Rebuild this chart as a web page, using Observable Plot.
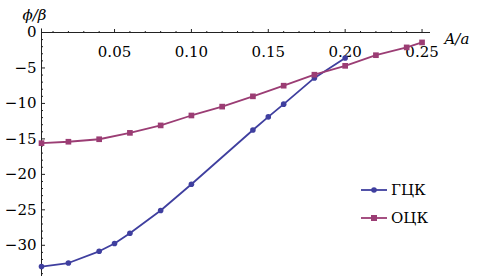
<!DOCTYPE html>
<html><head><meta charset="utf-8">
<script src="https://cdn.jsdelivr.net/npm/d3@7"></script>
<script src="https://cdn.jsdelivr.net/npm/@observablehq/plot@0.6"></script>
<style>
body{margin:0;background:#fff}
#wrap{position:relative;width:481px;height:276px}
#wrap svg text{font-family:"DejaVu Serif","Liberation Serif",serif}
#legend{position:absolute;left:360px;top:176px;font-family:"DejaVu Serif","Liberation Serif",serif;font-size:15px;color:#000}
.li{display:flex;align-items:center;height:28px}
.li svg{margin-right:3px}
</style>
</head><body><div id="wrap"></div>
<script>
// ГЦК series
const fccX = [0.0025, 0.02, 0.04, 0.05, 0.06, 0.08, 0.10, 0.14, 0.15, 0.16, 0.18, 0.20];
const fccY = [-33.0, -32.5, -30.85, -29.75, -28.3, -25.1, -21.4, -13.75, -11.9, -10.1, -6.4, -3.6];
// ОЦК series
const bccX = [0.0025, 0.02, 0.04, 0.06, 0.08, 0.10, 0.12, 0.14, 0.16, 0.18, 0.20, 0.22, 0.24, 0.25];
const bccY = [-15.6, -15.4, -15.05, -14.15, -13.1, -11.7, -10.45, -9.0, -7.5, -5.95, -4.7, -3.2, -2.1, -1.4];
const seriesNames = ["ГЦК", "ОЦК"];
const seriesColors = ["#3f3f9f", "#9b3d74"];
const xTickLabels = [0.05, 0.10, 0.15, 0.20, 0.25];
const xMinorTicks = [0.01,0.02,0.03,0.04,0.06,0.07,0.08,0.09,0.11,0.12,0.13,0.14,0.16,0.17,0.18,0.19,0.21,0.22,0.23,0.24];
const yTickLabels = [0, -5, -10, -15, -20, -25, -30];
const yMinorTicks = [-1,-2,-3,-4,-6,-7,-8,-9,-11,-12,-13,-14,-16,-17,-18,-19,-21,-22,-23,-24,-26,-27,-28,-29,-31,-32,-33,-34];
const xDomain = [0.0025, 0.2555];
const yDomain = [-34.4, 0];

const fcc = fccX.map((x, i) => ({x, y: fccY[i]}));
const bcc = bccX.map((x, i) => ({x, y: bccY[i]}));
const fmtY = d => d === 0 ? "0" : "\u2212" + Math.abs(d);

const chart = Plot.plot({
  width: 481, height: 276,
  marginLeft: 41, marginRight: 51, marginTop: 32, marginBottom: 0,
  style: {fontFamily: "'DejaVu Serif', serif", fontSize: "15px", background: "#fff", overflow: "visible"},
  x: {domain: xDomain, axis: null},
  y: {domain: yDomain, axis: null},
  marks: [
    Plot.ruleY([0], {stroke: "#222", strokeWidth: 1}),
    Plot.ruleX([xDomain[0]], {y1: yDomain[0], y2: 0.5, stroke: "#222", strokeWidth: 1}),
    Plot.axisX({anchor: "top", ticks: xTickLabels, tickSize: 4, tickFormat: () => "", label: null, stroke: "#222"}),
    Plot.axisX({anchor: "top", ticks: xMinorTicks, tickSize: 2, tickFormat: () => "", label: null, stroke: "#222"}),
    Plot.text(xTickLabels, {x: d => d, frameAnchor: "top", dy: 14, text: d => d.toFixed(2), fontSize: 15, fill: "#000"}),
    Plot.axisY({anchor: "left", ticks: yTickLabels, tickSize: -4, tickPadding: 9, tickFormat: fmtY, label: null, fontSize: 15, stroke: "#222", fill: "#000"}),
    Plot.axisY({anchor: "left", ticks: yMinorTicks, tickSize: -2, tickFormat: () => "", label: null, stroke: "#222"}),
    Plot.line(fcc, {x: "x", y: "y", stroke: seriesColors[0], strokeWidth: 1.8}),
    Plot.line(bcc, {x: "x", y: "y", stroke: seriesColors[1], strokeWidth: 1.8}),
    Plot.dot(fcc, {x: "x", y: "y", r: 2.8, fill: seriesColors[0], stroke: null}),
    Plot.dot(bcc, {x: "x", y: "y", r: 3.2, symbol: "square", fill: seriesColors[1], stroke: null}),
    Plot.text(["\u03D5/\u03B2"], {frameAnchor: "top-left", dx: -19, dy: -23, textAnchor: "start", fontStyle: "italic", fontSize: 15, fill: "#000"}),
    Plot.text(["A/a"], {frameAnchor: "top-right", dx: 14, dy: 1, textAnchor: "start", fontStyle: "italic", fontSize: 15, fill: "#000"})
  ]
});
const wrap = document.getElementById("wrap");
wrap.appendChild(chart);

const legend = document.createElement("div");
legend.id = "legend";
seriesNames.forEach((name, i) => {
  const row = document.createElement("div");
  row.className = "li";
  const sym = i === 0
    ? `<circle cx="14" cy="5" r="2.8" fill="${seriesColors[i]}"/>`
    : `<rect x="11" y="2" width="6" height="6" fill="${seriesColors[i]}"/>`;
  row.innerHTML = `<svg width="28" height="10"><line x1="1" y1="5" x2="27" y2="5" stroke="${seriesColors[i]}" stroke-width="1.8"/>${sym}</svg><span>${name}</span>`;
  legend.appendChild(row);
});
wrap.appendChild(legend);
</script>
</body></html>
